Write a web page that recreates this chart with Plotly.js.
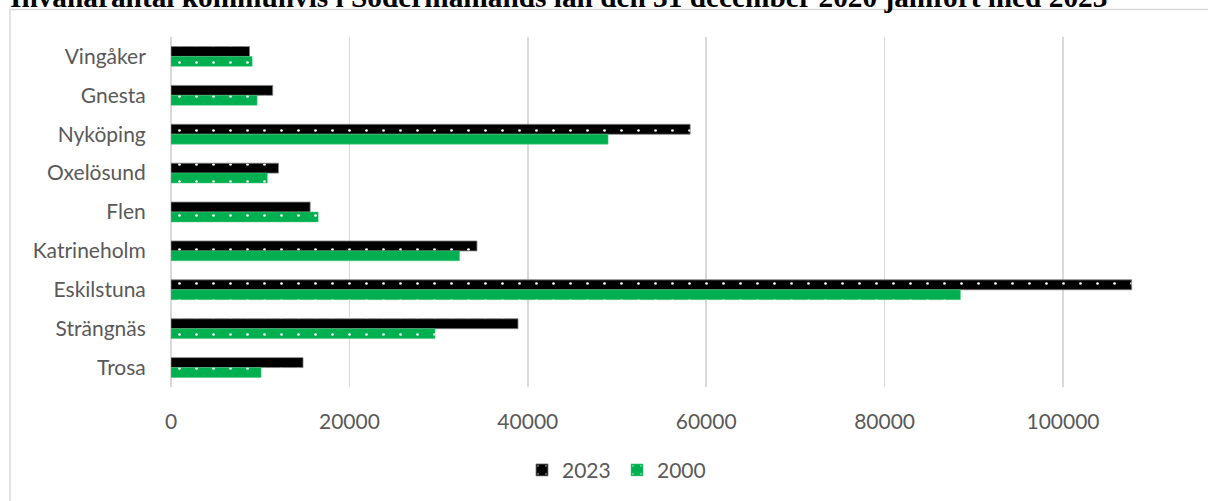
<!DOCTYPE html>
<html>
<head>
<meta charset="utf-8">
<script src="https://cdn.plot.ly/plotly-3.0.1.min.js"></script>
<style>
  html, body { margin: 0; padding: 0; background: #fff; }
  #chart { width: 1208px; height: 501px; }
</style>
</head>
<body>
<div id="chart"></div>
<script>
const categories = ["Vingåker", "Gnesta", "Nyköping", "Oxelösund", "Flen", "Katrineholm", "Eskilstuna", "Strängnäs", "Trosa"];
const values2023 = [8800, 11400, 58200, 12050, 15600, 34300, 107700, 38900, 14800];
const values2000 = [9100, 9650, 49000, 10800, 16500, 32350, 88500, 29600, 10100];
const seriesNames = ["2023", "2000"];
const xTicks = [0, 20000, 40000, 60000, 80000, 100000];
const titleText = "Invånarantal kommunvis i Södermanlands län den 31 december 2020 jämfört med 2023";

const W = 1208, H = 501;
const L = 171, R = 0, T = 36.5, B = 113.5;
const pw = W - L - R, ph = H - T - B;
const px2x = p => (p - L) / pw;
const py2y = p => (H - B - p) / ph;

const font = "Lato, 'Open Sans', sans-serif";
const textColor = "#595959";

const traces = [
  {
    type: "bar", orientation: "h", name: seriesNames[0],
    y: categories, x: values2023,
    marker: {
      color: "#000000",
      line: { color: "#7f7f7f", width: 0.8 },
      pattern: { shape: ".", fgcolor: "#ffffff", bgcolor: "#000000", size: 17, solidity: 0.02, fillmode: "replace" }
    },
    hoverinfo: "x+y"
  },
  {
    type: "bar", orientation: "h", name: seriesNames[1],
    y: categories, x: values2000,
    marker: {
      color: "#00B050",
      line: { color: "#4cc87f", width: 0.5 },
      pattern: { shape: ".", fgcolor: "#ffffff", bgcolor: "#00B050", size: 17, solidity: 0.02, fillmode: "replace" }
    },
    hoverinfo: "x+y"
  }
];

const layout = {
  width: W, height: H,
  margin: { l: L, r: R, t: T, b: B, pad: 0 },
  paper_bgcolor: "#ffffff", plot_bgcolor: "#ffffff",
  barmode: "group", bargap: 0.49, bargroupgap: 0,
  showlegend: true,
  title: {
    text: "<b>" + titleText + "</b>",
    font: { family: "'Liberation Serif', 'Times New Roman', serif", size: 29.3, color: "#000" },
    xref: "container", yref: "container",
    x: 10 / W, xanchor: "left",
    y: 1 - 7 / H, yanchor: "bottom"
  },
  xaxis: {
    range: [0, pw / (178.4 / 20000)],
    tickvals: xTicks,
    ticktext: xTicks.map(String),
    showgrid: true, gridcolor: "#d9d9d9", gridwidth: 1.5,
    zeroline: true, zerolinecolor: "#d9d9d9", zerolinewidth: 1.5,
    showline: false,
    ticks: "outside", ticklen: 16, tickcolor: "rgba(0,0,0,0)",
    tickfont: { family: font, size: 21, color: textColor },
    fixedrange: true
  },
  yaxis: {
    autorange: "reversed",
    type: "category",
    showgrid: false, zeroline: false, showline: false,
    ticks: "outside", ticklen: 20, tickcolor: "rgba(0,0,0,0)",
    tickfont: { family: font, size: 21, color: textColor },
    fixedrange: true
  },
  legend: {
    orientation: "h",
    x: px2x(617), xanchor: "center",
    y: py2y(471), yanchor: "middle",
    entrywidth: 50, entrywidthmode: "pixels",
    font: { family: font, size: 21, color: textColor },
    bgcolor: "rgba(0,0,0,0)"
  },
  shapes: [
    {
      type: "rect", xref: "paper", yref: "paper",
      x0: px2x(10), x1: px2x(1250), y0: py2y(540), y1: py2y(9),
      line: { color: "#d9d9d9", width: 1.5 }, fillcolor: "rgba(0,0,0,0)", layer: "below"
    }
  ]
};

Plotly.newPlot("chart", traces, layout, { displayModeBar: false, staticPlot: true });
</script>
</body>
</html>
